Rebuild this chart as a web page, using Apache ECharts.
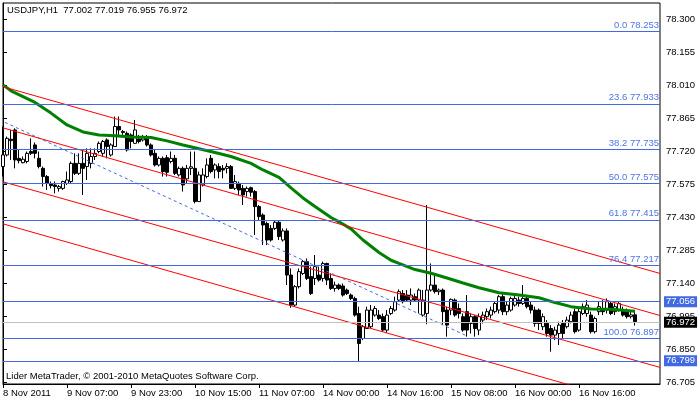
<!DOCTYPE html>
<html><head><meta charset="utf-8">
<script src="https://cdn.jsdelivr.net/npm/echarts@6/dist/echarts.min.js"></script>
<style>html,body{margin:0;padding:0;background:#fff}#c{width:700px;height:402px}</style>
</head><body><div id="c"></div>
<script>
// ---- data ----
const header = 'USDJPY,H1  77.002 77.019 76.955 76.972';
const footer = 'Lider MetaTrader, \u00a9 2001-2010 MetaQuotes Software Corp.';
const xTickIdx = [0, 16, 32, 48, 64, 80, 96, 112, 128, 144];
const xTickLabels = ['8 Nov 2011', '9 Nov 07:00', '9 Nov 23:00', '10 Nov 15:00', '11 Nov 07:00',
  '14 Nov 00:00', '14 Nov 16:00', '15 Nov 08:00', '16 Nov 00:00', '16 Nov 16:00'];
const yTicks = [78.300, 78.155, 78.010, 77.865, 77.720, 77.575, 77.430, 77.285, 77.140, 76.995, 76.850, 76.705];
// [open, close, low, high] per hourly bar
const candles = [
[77.654,77.705,77.610,77.830],[77.705,77.778,77.698,77.786],[77.774,77.768,77.683,77.815],[77.815,77.683,77.646,77.822],
[77.690,77.680,77.668,77.727],[77.671,77.686,77.668,77.698],[77.676,77.712,77.668,77.720],[77.720,77.712,77.705,77.778],
[77.749,77.712,77.690,77.760],[77.690,77.654,77.646,77.720],[77.646,77.610,77.566,77.654],[77.610,77.580,77.551,77.617],
[77.578,77.570,77.558,77.588],[77.573,77.566,77.536,77.588],[77.558,77.566,77.544,77.573],[77.558,77.588,77.551,77.592],
[77.580,77.595,77.573,77.632],[77.588,77.668,77.580,77.676],[77.668,77.624,77.617,77.712],[77.624,77.668,77.617,77.712],
[77.668,77.646,77.529,77.727],[77.654,77.712,77.595,77.734],[77.668,77.698,77.646,77.734],[77.698,77.712,77.683,77.734],
[77.720,77.756,77.712,77.764],[77.712,77.764,77.698,77.771],[77.771,77.742,77.690,77.778],[77.705,77.749,77.698,77.756],
[77.742,77.830,77.742,77.874],[77.830,77.815,77.793,77.874],[77.808,77.804,77.786,77.815],[77.800,77.727,77.720,77.808],
[77.793,77.764,77.734,77.800],[77.756,77.815,77.756,77.859],[77.775,77.764,77.756,77.793],[77.771,77.786,77.764,77.793],
[77.786,77.749,77.742,77.793],[77.749,77.705,77.698,77.756],[77.712,77.661,77.654,77.727],[77.661,77.690,77.654,77.698],
[77.690,77.632,77.610,77.698],[77.693,77.629,77.610,77.705],[77.676,77.690,77.668,77.720],[77.690,77.624,77.617,77.705],
[77.617,77.646,77.610,77.654],[77.646,77.573,77.544,77.654],[77.600,77.646,77.580,77.661],[77.646,77.653,77.617,77.720],
[77.646,77.500,77.492,77.720],[77.500,77.617,77.500,77.632],[77.573,77.617,77.566,77.646],[77.610,77.661,77.602,77.690],
[77.690,77.632,77.624,77.705],[77.639,77.661,77.602,77.668],[77.654,77.632,77.602,77.668],[77.646,77.639,77.602,77.661],
[77.646,77.654,77.624,77.668],[77.654,77.558,77.558,77.661],[77.558,77.588,77.551,77.617],[77.580,77.551,77.529,77.588],
[77.558,77.529,77.485,77.573],[77.544,77.558,77.522,77.566],[77.561,77.541,77.522,77.566],[77.544,77.478,77.353,77.551],
[77.478,77.434,77.419,77.485],[77.441,77.397,77.309,77.448],[77.404,77.331,77.309,77.412],[77.382,77.331,77.324,77.397],
[77.382,77.409,77.375,77.419],[77.409,77.346,77.331,77.419],[77.331,77.371,77.324,77.382],[77.371,77.177,77.133,77.382],
[77.177,77.045,77.033,77.206],[77.045,77.126,77.038,77.133],[77.126,77.192,77.118,77.206],[77.184,77.236,77.177,77.243],
[77.236,77.162,77.155,77.250],[77.170,77.096,77.089,77.214],[77.162,77.214,77.133,77.265],[77.177,77.155,77.148,77.214],
[77.162,77.228,77.148,77.236],[77.228,77.155,77.133,77.231],[77.162,77.118,77.111,77.184],[77.118,77.133,77.104,77.148],
[77.133,77.118,77.111,77.140],[77.129,77.089,77.082,77.140],[77.111,77.096,77.089,77.118],[77.089,77.074,77.067,77.096],
[77.074,77.001,76.994,77.082],[77.008,76.876,76.796,77.038],[76.898,76.950,76.891,76.957],[76.942,77.023,76.942,77.038],
[76.950,77.023,76.942,77.045],[77.001,77.030,76.994,77.041],[77.001,76.986,76.979,77.023],[76.994,76.935,76.928,77.008],
[76.935,77.001,76.923,77.023],[77.008,77.030,77.001,77.041],[77.023,77.060,77.016,77.082],[77.067,77.104,77.060,77.114],
[77.096,77.060,77.052,77.111],[77.089,77.067,77.060,77.111],[77.067,77.089,77.045,77.118],[77.082,77.067,77.060,77.096],
[77.067,77.111,77.008,77.118],[77.001,77.067,76.994,77.111],[77.008,77.111,76.961,77.485],[77.111,77.133,77.104,77.228],
[77.133,77.104,77.096,77.177],[77.104,77.111,77.089,77.118],[77.111,77.016,76.957,77.118],[77.023,76.957,76.906,77.038],
[77.023,77.070,77.001,77.074],[77.067,77.001,76.994,77.074],[77.030,77.008,76.986,77.052],[76.994,76.935,76.928,77.008],
[77.016,76.935,76.906,77.089],[76.964,76.994,76.920,77.008],[76.994,76.942,76.906,77.001],[76.935,76.994,76.913,77.008],
[76.979,77.001,76.964,77.016],[76.994,77.016,76.979,77.030],[77.001,77.023,76.986,77.038],[77.016,77.052,77.008,77.060],
[77.023,77.082,77.008,77.089],[77.082,77.016,77.001,77.096],[77.016,77.045,77.001,77.060],[77.023,77.074,77.016,77.082],
[77.045,77.074,77.038,77.089],[77.067,77.052,77.038,77.082],[77.052,77.074,77.045,77.133],[77.074,77.038,77.030,77.082],
[77.045,77.023,77.008,77.060],[77.023,76.964,76.950,77.038],[77.023,76.964,76.935,77.030],[76.950,76.994,76.935,77.008],
[76.964,76.920,76.906,76.979],[76.942,76.913,76.840,76.957],[76.913,76.935,76.891,76.950],[76.920,76.957,76.869,76.972],
[76.964,76.920,76.898,76.979],[76.950,76.979,76.942,76.994],[76.972,77.001,76.964,77.016],[77.016,76.928,76.920,77.030],
[76.935,77.016,76.928,77.030],[77.008,77.038,77.001,77.052],[77.008,77.045,76.994,77.067],[77.001,76.928,76.920,77.016],
[76.928,76.986,76.920,76.994],[77.016,77.038,77.001,77.060],[77.030,77.016,77.001,77.067],[77.023,77.060,77.008,77.074],
[77.052,77.008,77.001,77.060],[77.016,77.038,77.001,77.052],[77.023,77.052,77.016,77.060],[77.023,77.001,76.994,77.038],
[77.016,76.994,76.986,77.030],[76.994,77.002,76.986,77.016],[77.002,76.972,76.955,77.019]
];
// moving average readings [bar, price]
const maPoints = [[0,78.013],[2,77.987],[8,77.936],[12,77.889],[16,77.837],[20,77.806],[24,77.793],[28,77.789],
[32,77.784],[37,77.782],[41,77.767],[45,77.749],[49,77.732],[53,77.716],[57,77.698],[62,77.668],[65,77.639],
[69,77.606],[72,77.560],[75,77.516],[78,77.478],[82,77.430],[84,77.411],[87,77.380],[90,77.331],[94,77.276],
[97,77.242],[99,77.228],[103,77.201],[107,77.185],[111,77.164],[115,77.142],[119,77.121],[124,77.099],
[129,77.089],[134,77.077],[138,77.056],[142,77.038],[147,77.028],[152,77.027],[158,77.018]];
// channel (red) lines: [startBar, startPrice], [endBar, endPrice]
const channelLines = [
  [[0,78.005],[164.25,77.184]],
  [[0,77.824],[164.25,76.999]],
  [[0,77.587],[164.25,76.771]],
  [[0,77.402],[164.25,76.581]]
];
const trendLine = [[0.5,77.848],[115.75,76.911]];
const fibPct = ['0.0', '23.6', '38.2', '50.0', '61.8', '76.4', '100.0'];
const fibPrice = [78.253, 77.933, 77.735, 77.575, 77.415, 77.217, 76.897];
const levelPrices = [77.056, 76.799];
const bidPrice = 76.972;

// ---- chart ----
const FONT = '"Liberation Sans", Arial, sans-serif';
const FS = 9.5;
const chart = echarts.init(document.getElementById('c'), null, {renderer: 'canvas'});
const candleData = candles.map((c, i) => [i, c[0], c[1], c[2], c[3]]);

const series = [
  {
    type: 'candlestick', data: candleData, barWidth: 3, z: 2,
    encode: {x: 0, y: [1, 2, 3, 4]},
    itemStyle: {color: '#ffffff', color0: '#000000', borderColor: '#000000', borderColor0: '#000000', borderWidth: 1},
    silent: true
  },
  {
    type: 'line', data: [], z: 1, silent: true,
    markLine: {
      symbol: 'none', silent: true, animation: false,
      lineStyle: {color: '#c0c0c0', type: 'solid', width: 1},
      label: {show: false},
      data: [{yAxis: bidPrice}]
    }
  },
  {
    type: 'line', data: [], z: 3, silent: true,
    markLine: {
      symbol: 'none', silent: true, animation: false,
      lineStyle: {color: '#4169e1', type: 'solid', width: 1},
      data: fibPrice.map((p, k) => ({
        yAxis: p,
        label: {show: true, position: 'insideEndTop', distance: [1, 1], formatter: fibPct[k] + ' ' + p.toFixed(3),
          color: '#4f73e6', fontFamily: FONT, fontSize: FS}
      })).concat(levelPrices.map(p => ({
        yAxis: p,
        label: {show: true, position: 'end', distance: 4, formatter: p.toFixed(3), color: '#ffffff',
          backgroundColor: '#4169e1', padding: [1, 2, 0, 2], fontFamily: FONT, fontSize: FS}
      })))
    }
  },
  {
    type: 'line', data: [], z: 4, silent: true,
    markLine: {
      symbol: 'none', silent: true, animation: false,
      lineStyle: {color: 'rgba(0,0,0,0)', width: 0},
      data: [{yAxis: bidPrice, label: {show: true, position: 'end', distance: 4, formatter: bidPrice.toFixed(3),
        color: '#ffffff', backgroundColor: '#000000', padding: [1, 2, 0, 2], fontFamily: FONT, fontSize: FS}}]
    }
  },
  {
    type: 'line', data: maPoints, showSymbol: false, symbol: 'none', z: 4, silent: true,
    lineStyle: {color: '#008000', width: 3}
  },
  {
    type: 'line', data: trendLine, showSymbol: false, symbol: 'none', z: 4, silent: true,
    lineStyle: {color: '#4169e1', width: 1, type: [3, 3]}
  }
];
channelLines.forEach(l => series.push({
  type: 'line', data: l, showSymbol: false, symbol: 'none', z: 4, silent: true,
  lineStyle: {color: '#ff0000', width: 1}
}));

chart.setOption({
  animation: false,
  backgroundColor: '#ffffff',
  grid: {left: 3, right: 40, top: 3, bottom: 18, show: true, borderColor: '#000', borderWidth: 1, backgroundColor: '#fff', containLabel: false},
  xAxis: {
    type: 'value', min: 0, max: 164.25,
    splitLine: {show: false},
    axisLine: {show: true, lineStyle: {color: '#000'}},
    axisTick: {show: true, length: 4, inside: false, customValues: xTickIdx, lineStyle: {color: '#000'}},
    axisLabel: {show: true, customValues: xTickIdx, align: 'left', margin: 4, color: '#000',
      fontFamily: FONT, fontSize: FS,
      formatter: v => xTickLabels[xTickIdx.indexOf(Math.round(v))] || ''}
  },
  yAxis: {
    type: 'value', position: 'right', min: 76.698, max: 78.373, scale: true,
    splitLine: {show: false},
    axisLine: {show: true, lineStyle: {color: '#000'}},
    axisTick: {show: true, length: 4, customValues: yTicks, lineStyle: {color: '#000'}},
    axisLabel: {show: true, customValues: yTicks, margin: 6, color: '#000', fontFamily: FONT, fontSize: FS,
      formatter: v => v.toFixed(3)}
  },
  graphic: [
    {type: 'text', left: 7, top: 5, z: 10, style: {text: header, font: FS + 'px ' + FONT, fill: '#000'}},
    {type: 'text', left: 6, top: 371, z: 10, style: {text: footer, font: FS + 'px ' + FONT, fill: '#000'}}
  ],
  series: series
});
</script></body></html>
